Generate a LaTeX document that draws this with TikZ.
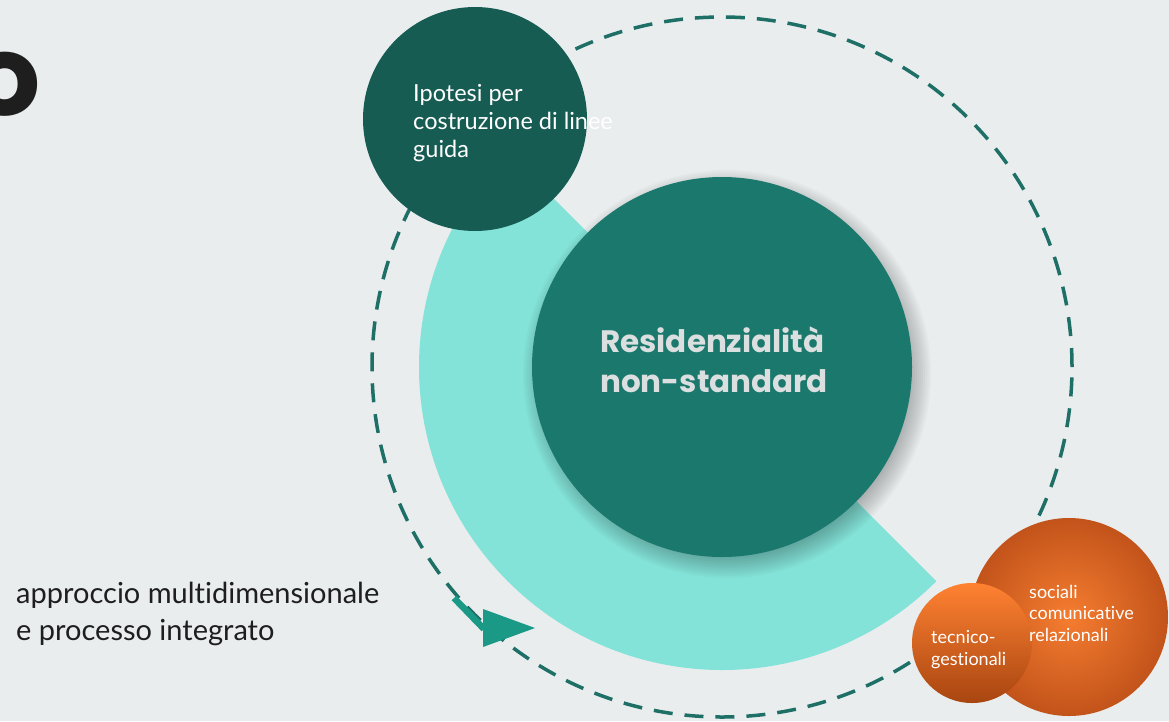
\documentclass[tikz,border=0pt]{standalone}
\usepackage{fontspec}
\setmainfont{Lato}[Ligatures=NoCommon]
\newfontfamily\headfont{Poppins}
\usetikzlibrary{arrows.meta,positioning,calc}
\usepackage{xcolor}
\definecolor{bgcol}{HTML}{E9EDEE}
\definecolor{ringcol}{HTML}{1E6F66}
\definecolor{sectorcol}{HTML}{84E3D8}
\definecolor{corecol}{HTML}{1B786D}
\definecolor{ideacol}{HTML}{165C53}
\definecolor{arrowcol}{HTML}{1A9987}
\definecolor{corefont}{HTML}{DCDFDF}
\definecolor{orlight}{HTML}{F57D30}
\definecolor{ordark}{HTML}{C2531A}
\definecolor{ortop}{HTML}{FF8232}
\definecolor{orbottom}{HTML}{A84510}
\definecolor{inkcol}{HTML}{1E1E1E}

\begin{document}
\begin{tikzpicture}[x=1pt,y=-1pt,
  bubble/.style={circle,inner sep=0pt},
  label/.style={anchor=north west,align=left,inner sep=0pt}]
\fill[bgcol] (0,0) rectangle (1169,721);
\useasboundingbox (0,0) rectangle (1169,721);

% title letter, cut at the left edge
\node[anchor=south east,inner sep=0pt,text=inkcol,font=\headfont\bfseries\fontsize{112}{112}\selectfont] (titlecut) at (41,117) {o};

% dashed ring and turquoise sector
\coordinate (c) at (722,367);
\node[bubble,draw=ringcol,dash pattern=on 19pt off 12pt,line width=3.5pt,minimum size=700pt] (ring) at (c) {};
\fill[sectorcol] (c) -- ++(135:303pt) arc[start angle=135,end angle=315,radius=303pt] -- cycle;

% soft shadow of the core
\foreach \r in {176,178,...,204}
  \fill[black,opacity=0.022] ($(c)+(5,7)$) circle[radius=\r pt];
\node[bubble,fill=corecol,minimum size=380pt] (core) at (c) {};
\node[label,text=corefont,font=\headfont\bfseries\fontsize{31}{40}\selectfont] (coretext) at (600,327) {Residenzialità\\non-standard};

% top bubble
\node[bubble,fill=ideacol,minimum size=224pt] (idea) at (475,119) {};
\node[label,text=white,font=\fontsize{23.5}{28}\selectfont] (ideatext) at (413,84) {Ipotesi per\\costruzione di linee\\guida};

% orange bubbles
\node[bubble,inner color=orlight,outer color=ordark,minimum size=198pt] (social) at (1069,617) {};
\node[bubble,top color=ortop,bottom color=orbottom,minimum size=120pt] (tech) at (972,643) {};
\node[label,text=white,font=\fontsize{18}{21.5}\selectfont] (socialtext) at (1029,585) {sociali\\comunicative\\relazionali};
\node[label,text=white,font=\fontsize{18}{22}\selectfont] (techtext) at (931,630) {tecnico-\\gestionali};

% arrow on the ring
\coordinate (shaft) at (454,598);
\coordinate (head) at (484,629);
\coordinate (tip) at (535,628);
\draw[arrowcol,line width=6.5pt] (shaft) -- (head);
\fill[arrowcol] (483,609) -- (tip) -- (483,647) -- cycle;

% side text
\node[label,text=inkcol,font=\fontsize{29}{37}\selectfont] (approach) at (16,582) {approccio multidimensionale\\e processo integrato};
\end{tikzpicture}
\end{document}
